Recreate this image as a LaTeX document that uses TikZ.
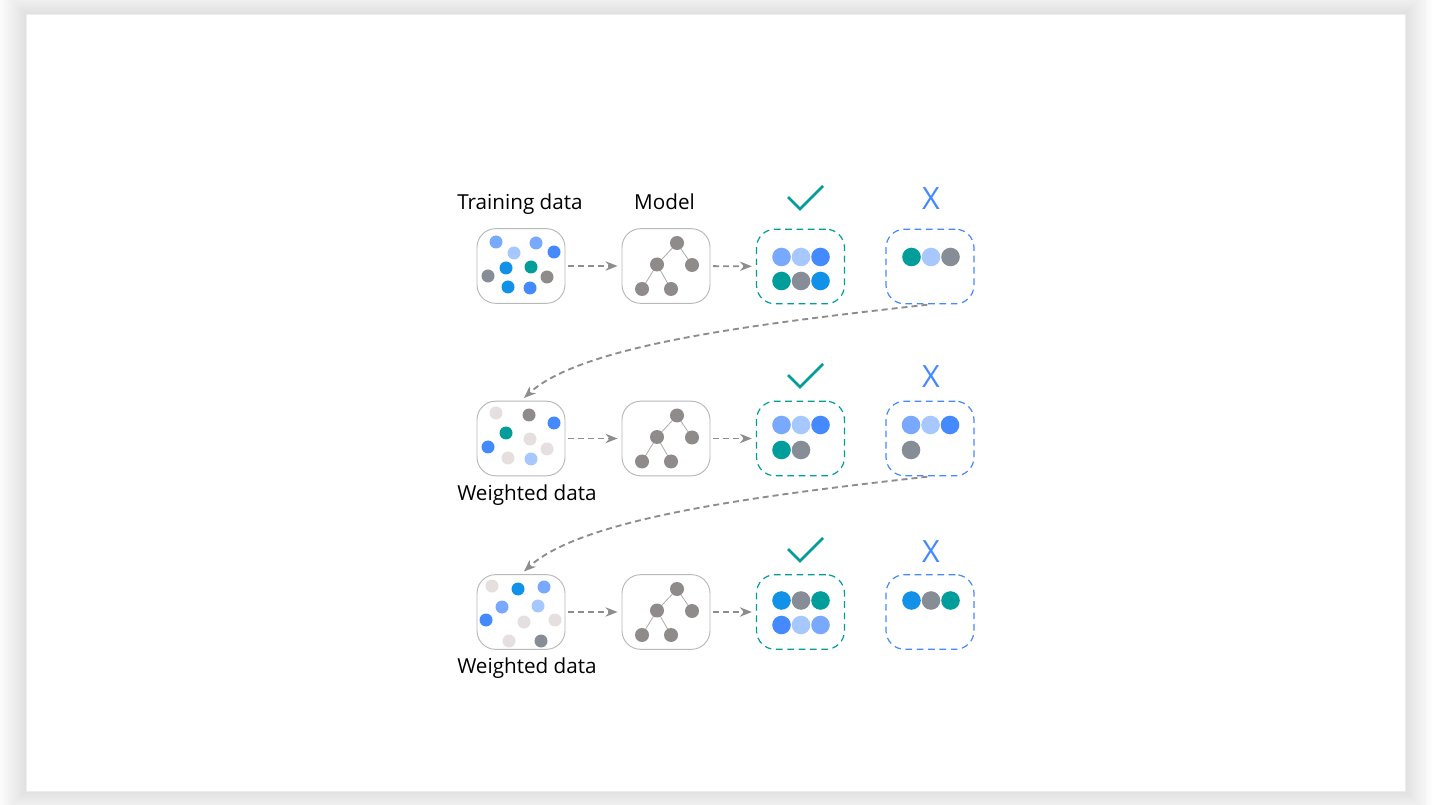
\documentclass[tikz,border=0pt]{standalone}
\usepackage{fontspec}
\setmainfont{Open Sans}
\usetikzlibrary{arrows.meta}
\definecolor{bluec}{HTML}{4589FF}
\definecolor{lblue}{HTML}{78A9FF}
\definecolor{pblue}{HTML}{A6C8FF}
\definecolor{cyanc}{HTML}{1192E8}
\definecolor{tealc}{HTML}{009D9A}
\definecolor{cgray}{HTML}{878D96}
\definecolor{wgray}{HTML}{8F8B8B}
\definecolor{lgray}{HTML}{E5E0DF}
\definecolor{edgegray}{HTML}{B8B8B8}
\definecolor{arrowgray}{HTML}{8D8D8D}
\definecolor{treeline}{HTML}{ABABAB}
\begin{document}
\begin{tikzpicture}[x=.75pt,y=-.75pt,
		box/.style={draw=edgegray,line width=.7pt,rounded corners=14pt,minimum width=66pt,minimum height=56pt,inner sep=0pt},
		goodbox/.style={box,draw=tealc,line width=.9pt,dash pattern=on 5pt off 3.5pt},
		badbox/.style={box,draw=bluec,line width=.9pt,dash pattern=on 5pt off 3.5pt},
		flow/.style={draw=arrowgray,line width=1.4pt,dash pattern=on 4.5pt off 3pt,-{Stealth[length=9pt,width=7pt]},shorten <=2pt,shorten >=3pt},
		lbl/.style={font=\fontsize{15.5}{18}\selectfont,inner sep=0pt},
		cross/.style={text=bluec,font=\fontsize{23}{23}\selectfont,inner sep=0pt},
		tick/.style={draw=tealc,line width=2pt}]
		\useasboundingbox(0,0)rectangle(1432,805);
		% card with soft shadow
		\foreach \i in {1,...,30}\draw[black,opacity=.0035,line width=\i*1.4pt](26,14)rectangle(1405,791);
		\fill[white](26,14)rectangle(1405,791);
		\draw[black!7,line width=.4pt](26,14)rectangle(1405,791);
		% boxes, trees and arrows of each row
		\foreach \yc/\yr[count=\r] in {266/266.5,438.5/438.5,612/612}{
			\node[box](data\r)at(521,\yc){};
			\node[box](model\r)at(666,\yc){};
			\node[goodbox](good\r)at(800.5,\yr){};
			\node[badbox](bad\r)at(930,\yr){};
			\begin{scope}[shift={(666,\yc)}]
				\path(11,-23)coordinate(ta)(-9,-1.5)coordinate(tb)(26,-1)coordinate(tc)(-24,23)coordinate(td)(5,23)coordinate(te);
				\draw[treeline,line width=.6pt](tc)--(ta)--(tb)--(td)(tb)--(te);
				\foreach \p in {ta,tb,tc,td,te}\fill[wgray](\p)circle(7);
			\end{scope}
			\draw[flow](data\r)--(model\r);
			\draw[flow](model\r)--(good\r);
		}
		\draw[flow](bad1.south)..controls+(-180,20)and+(60,-55)..(data2.north);
		\draw[flow](bad2.south)..controls+(-180,20)and+(60,-55)..(data3.north);
		% labels
		\node[lbl,anchor=base west](train)at(457,210){Training data};
		\node[lbl,anchor=base](model)at(664.5,210){Model};
		\node[lbl,anchor=base west](weight2)at(457,500){Weighted data};
		\node[lbl,anchor=base west](weight3)at(457,673){Weighted data};
		\node[cross,anchor=base](x1)at(931,210){X};
		\node[cross,anchor=base](x2)at(931,388){X};
		\node[cross,anchor=base](x3)at(931,562){X};
		\draw[tick](788,197)--++(12,12)--++(23,-23);
		\draw[tick](788,375)--++(12,12)--++(23,-23);
		\draw[tick](788,549)--++(12,12)--++(23,-23);
		% data points
		\foreach \x/\y/\c in {496/242/lblue,514/253/pblue,536/243/lblue,554/252/bluec,488/276/cgray,506/268/cyanc,531/267/tealc,547/277/wgray,508/287/cyanc,530/288/bluec}\fill[\c](\x,\y)circle(6.5);
		\foreach \x/\y/\c in {496/413/lgray,529/415/wgray,554/423/bluec,506/433/tealc,530/439/lgray,488/447/bluec,547/449/lgray,508/458/lgray,531/459/pblue}\fill[\c](\x,\y)circle(6.5);
		\foreach \x/\y/\c in {492/586/lgray,518/589/cyanc,544/587/lblue,502/607/lblue,538/606/pblue,486/620/bluec,524/622/lgray,555/620/lgray,509/641/lgray,541/641/cgray}\fill[\c](\x,\y)circle(6.5);
		% predictions
		\foreach \x/\y/\c in {781.5/257/lblue,801/257/pblue,820.5/257/bluec,781.5/281/tealc,801/281/cgray,820.5/281/cyanc,
			911.5/257/tealc,931/257/pblue,950.5/257/cgray}\fill[\c](\x,\y)circle(9.3);
		\foreach \x/\y/\c in {781.5/425/lblue,801/425/pblue,820.5/425/bluec,781.5/450/tealc,801/450/cgray,
			911/425/lblue,930.5/425/pblue,950/425/bluec,911/450/cgray}\fill[\c](\x,\y)circle(9.3);
		\foreach \x/\y/\c in {781.5/600.5/cyanc,801/600.5/cgray,820.5/600.5/tealc,781.5/625/bluec,801/625/pblue,820.5/625/lblue,
			911.5/600.5/cyanc,931/600.5/cgray,950.5/600.5/tealc}\fill[\c](\x,\y)circle(9.3);
	\end{tikzpicture}
\end{document}
